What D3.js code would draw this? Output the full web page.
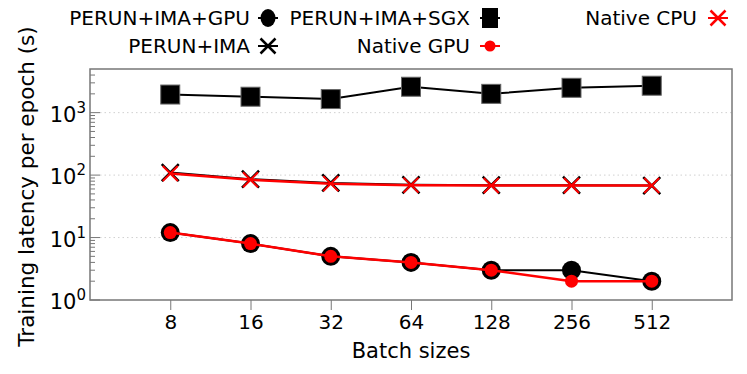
<!DOCTYPE html>
<html>
<head>
<meta charset="utf-8">
<script src="https://cdn.jsdelivr.net/npm/d3@7"></script>
<style>
  body { margin: 0; background: #fff; }
  text { font-family: "DejaVu Sans", sans-serif; fill: #000; }
</style>
</head>
<body>
<div id="chart"></div>
<script>
// data
const batchSizes = ["8", "16", "32", "64", "128", "256", "512"];
const perunImaGpu = [12, 8, 5, 4, 3, 3, 2];
const perunImaSgx = [1950, 1800, 1650, 2600, 2000, 2500, 2700];
const perunIma = [110, 86, 75, 70, 69, 69, 68];
const nativeGpu = [12, 8, 5, 4, 3, 2, 2];
const nativeCpu = [106, 84, 73, 69, 68, 68, 68];
const yMajor = [1, 10, 100, 1000];

const width = 747, height = 374;
const margin = { top: 69, right: 15, bottom: 74, left: 90 };

const svg = d3.select("#chart")
    .append("svg")
    .attr("width", width)
    .attr("height", height);

const x = d3.scaleLinear()
    .domain([-1, batchSizes.length])
    .range([margin.left, width - margin.right]);

const y = d3.scaleLog()
    .domain([1, 5000])
    .range([height - margin.bottom, margin.top]);

const x0 = margin.left, x1 = width - margin.right;
const y0 = height - margin.bottom, y1 = margin.top;

// dotted grid at decades
svg.append("g")
    .selectAll("line")
    .data(yMajor.slice(1))
    .enter()
    .append("line")
    .attr("x1", x0 + 10)
    .attr("x2", x1)
    .attr("y1", d => y(d))
    .attr("y2", d => y(d))
    .attr("stroke", "#d0d0d0")
    .attr("stroke-width", 1)
    .attr("stroke-dasharray", "1.5,3");

// y ticks, drawn inside the frame
const minor = [];
for (let e = 0; e < 4; e++) {
    for (let m = 2; m <= 9; m++) {
        const v = m * Math.pow(10, e);
        if (v < 5000) minor.push(v);
    }
}
svg.append("g")
    .selectAll("line")
    .data(minor)
    .enter()
    .append("line")
    .attr("x1", x0)
    .attr("x2", x0 + 5)
    .attr("y1", d => y(d))
    .attr("y2", d => y(d))
    .attr("stroke", "#777")
    .attr("stroke-width", 1);

svg.append("g")
    .selectAll("line")
    .data(yMajor)
    .enter()
    .append("line")
    .attr("x1", x0)
    .attr("x2", x0 + 10)
    .attr("y1", d => y(d))
    .attr("y2", d => y(d))
    .attr("stroke", "#777")
    .attr("stroke-width", 1);

// y tick labels 10^n
const yl = svg.append("g")
    .selectAll("text")
    .data(yMajor)
    .enter()
    .append("text")
    .attr("x", x0 - 4)
    .attr("y", d => y(d) + 9)
    .attr("text-anchor", "end")
    .style("font-size", "21px");
yl.append("tspan").text("10");
yl.append("tspan")
    .attr("dy", -9)
    .style("font-size", "15px")
    .text(d => Math.round(Math.log10(d)));

// x ticks outside
const xAxis = d3.axisBottom(x)
    .tickValues(d3.range(batchSizes.length))
    .tickFormat(i => batchSizes[i])
    .tickSize(10)
    .tickPadding(5);

const gx = svg.append("g")
    .attr("transform", `translate(0,${y0})`)
    .call(xAxis);
gx.select(".domain").remove();
gx.selectAll("line").attr("stroke", "#777");
gx.selectAll("text")
    .style("font-size", "20px")
    .style("font-family", "DejaVu Sans, sans-serif");

// frame
svg.append("rect")
    .attr("x", x0)
    .attr("y", y1)
    .attr("width", x1 - x0)
    .attr("height", y0 - y1)
    .attr("fill", "none")
    .attr("stroke", "#777")
    .attr("stroke-width", 1.5);

// axis titles
svg.append("text")
    .attr("x", (x0 + x1) / 2)
    .attr("y", 358)
    .attr("text-anchor", "middle")
    .style("font-size", "21px")
    .text("Batch sizes");

svg.append("text")
    .attr("transform", `translate(34,${(y0 + y1) / 2 + 2}) rotate(-90)`)
    .attr("text-anchor", "middle")
    .style("font-size", "21.5px")
    .text("Training latency per epoch (s)");

const line = d3.line()
    .x((d, i) => x(i))
    .y(d => y(d));

function drawLine(vals, color, w) {
    svg.append("path")
        .datum(vals)
        .attr("d", line)
        .attr("fill", "none")
        .attr("stroke", color)
        .attr("stroke-width", w);
}

function cross(g, cx, cy, r, color, w) {
    g.append("path")
        .attr("d", `M${cx - r},${cy - r}L${cx + r},${cy + r}M${cx - r},${cy + r}L${cx + r},${cy - r}`)
        .attr("stroke", color)
        .attr("stroke-width", w)
        .attr("fill", "none");
}

// PERUN+IMA+SGX
drawLine(perunImaSgx, "#000", 2);
svg.append("g")
    .selectAll("rect")
    .data(perunImaSgx)
    .enter()
    .append("rect")
    .attr("x", (d, i) => x(i) - 9.5)
    .attr("y", d => y(d) - 9.5)
    .attr("width", 19)
    .attr("height", 19)
    .attr("fill", "#000")
    .attr("stroke", "#666")
    .attr("stroke-width", 1);

// PERUN+IMA and Native CPU
drawLine(perunIma, "#000", 2);
const gc = svg.append("g");
perunIma.forEach((d, i) => cross(gc, x(i), y(d), 8.5, "#000", 2.5));
drawLine(nativeCpu, "#f00", 2.5);
nativeCpu.forEach((d, i) => cross(gc, x(i), y(d), 7.5, "#f00", 2));

// PERUN+IMA+GPU and Native GPU
drawLine(perunImaGpu, "#000", 2);
svg.append("g")
    .selectAll("circle")
    .data(perunImaGpu)
    .enter()
    .append("circle")
    .attr("cx", (d, i) => x(i))
    .attr("cy", d => y(d))
    .attr("r", 9.5)
    .attr("fill", "#000");
drawLine(nativeGpu, "#f00", 2.5);
svg.append("g")
    .selectAll("circle")
    .data(nativeGpu)
    .enter()
    .append("circle")
    .attr("cx", (d, i) => x(i))
    .attr("cy", d => y(d))
    .attr("r", 6.5)
    .attr("fill", "#f00");

// legend
const legend = [
    { name: "PERUN+IMA+GPU", tx: 250, mx: 268, ty: 25, kind: "circle", color: "#000" },
    { name: "PERUN+IMA+SGX", tx: 470, mx: 490, ty: 25, kind: "square", color: "#000" },
    { name: "Native CPU", tx: 697, mx: 718, ty: 25, kind: "cross", color: "#f00" },
    { name: "PERUN+IMA", tx: 250, mx: 268, ty: 53, kind: "cross", color: "#000" },
    { name: "Native GPU", tx: 470, mx: 490, ty: 53, kind: "dot", color: "#f00" }
];
const lg = svg.append("g");
legend.forEach(l => {
    lg.append("text")
        .attr("x", l.tx)
        .attr("y", l.ty)
        .attr("text-anchor", "end")
        .style("font-size", "20px")
        .text(l.name);
    const cy = l.ty - 7;
    lg.append("line")
        .attr("x1", l.mx - 10)
        .attr("x2", l.mx + 10)
        .attr("y1", cy)
        .attr("y2", cy)
        .attr("stroke", l.color)
        .attr("stroke-width", 2);
    if (l.kind === "circle") {
        lg.append("ellipse").attr("cx", l.mx).attr("cy", cy).attr("rx", 7.5).attr("ry", 9).attr("fill", l.color);
    } else if (l.kind === "dot") {
        lg.append("circle").attr("cx", l.mx).attr("cy", cy).attr("r", 5.5).attr("fill", l.color);
    } else if (l.kind === "square") {
        lg.append("rect").attr("x", l.mx - 8).attr("y", cy - 10).attr("width", 16).attr("height", 20).attr("fill", l.color);
    } else {
        cross(lg, l.mx, cy, 7.5, l.color, 2.5);
    }
});
</script>
</body>
</html>
